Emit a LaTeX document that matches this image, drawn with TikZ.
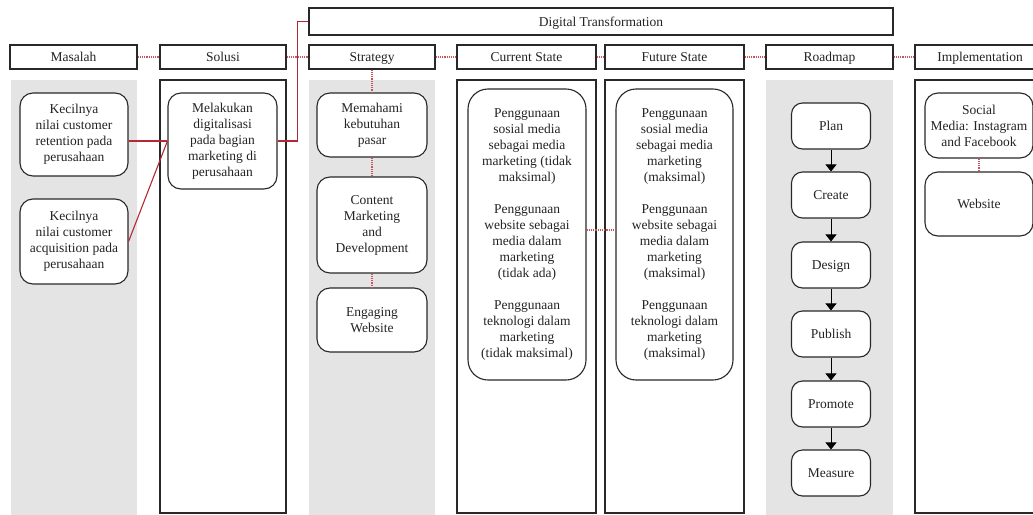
\documentclass[tikz,border=0pt]{standalone}
\usepackage{fontspec}
\setmainfont{Liberation Serif}
\usetikzlibrary{arrows.meta}
\definecolor{redline}{RGB}{180,40,52}
\definecolor{dotred}{RGB}{200,85,90}
\definecolor{colgray}{RGB}{228,228,228}
\definecolor{txt}{RGB}{35,35,35}
\definecolor{edge}{RGB}{40,40,40}
\begin{document}
\begin{tikzpicture}[x=1pt,y=-1pt,
  fnt/.style={font=\fontsize{13.5}{16}\selectfont, text=txt},
  oneline/.style={text height=10.5pt, text depth=1.5pt},
  box/.style={fnt, draw=edge, line width=1.1pt, rounded corners=13pt, fill=white, inner sep=0pt, align=center},
  bigbox/.style={box, rounded corners=20pt},
  rbox/.style={box, oneline, minimum width=79pt, minimum height=46pt, rounded corners=11pt},
  hdr/.style={fnt, oneline, draw=edge, line width=1.1pt, fill=white, inner sep=0pt, minimum height=24pt},
  whitecol/.style={draw=edge, line width=1.1pt, fill=white},
  graycol/.style={fill=colgray},
  redl/.style={draw=redline, line width=1.1pt},
  dotl/.style={draw=dotred, line width=1.2pt, densely dotted},
  arr/.style={draw=black, line width=1pt, -{Triangle[width=11pt,length=7pt]}}
]
\useasboundingbox (0,0) rectangle (1033,514);
\clip (0,0) rectangle (1033,514);
\fill[white] (0,0) rectangle (1033,514);

% columns
\fill[graycol] (11,80) rectangle (137,520);
\draw[whitecol] (160,80) rectangle (286,513);
\fill[graycol] (309,80) rectangle (435,520);
\draw[whitecol] (457,80) rectangle (596,513);
\draw[whitecol] (605,80) rectangle (744,513);
\fill[graycol] (766,80) rectangle (893,520);
\draw[whitecol] (915,80) rectangle (1045,513);

% top box
\node[hdr, minimum width=584pt, minimum height=27pt] (dt) at (601,21.5) {Digital Transformation};

% headers
\node[hdr, minimum width=127pt] (hM) at (73.5,57) {Masalah};
\node[hdr, minimum width=126pt] (hS) at (223,57) {Solusi};
\node[hdr, minimum width=126pt] (hSt) at (372,57) {Strategy};
\node[hdr, minimum width=139pt] (hC) at (526.5,57) {Current State};
\node[hdr, minimum width=139pt] (hF) at (674.5,57) {Future State};
\node[hdr, minimum width=127pt] (hR) at (829.5,57) {Roadmap};
\node[hdr, minimum width=130pt] (hI) at (980,57) {Implementation};

% Masalah
\node[box, minimum width=108pt, minimum height=83pt] (m1) at (74,134.5) {Kecilnya\\nilai customer\\retention pada\\perusahaan};
\node[box, minimum width=108pt, minimum height=85pt] (m2) at (74,241.5) {Kecilnya\\nilai customer\\acquisition pada\\perusahaan};

% Solusi
\node[box, minimum width=109pt, minimum height=96pt] (s1) at (222.5,141) {Melakukan\\digitalisasi\\pada bagian\\marketing di\\perusahaan};

% Strategy
\node[box, minimum width=110pt, minimum height=64pt] (st1) at (372,125) {Memahami\\kebutuhan\\pasar};
\node[box, minimum width=110pt, minimum height=96pt] (st2) at (372,225) {Content\\Marketing\\and\\Development};
\node[box, minimum width=110pt, minimum height=64pt] (st3) at (372,320) {Engaging\\Website};

% Current / Future
\node[bigbox, minimum width=118pt, minimum height=291pt] (cs) at (527,234.5) {Penggunaan\\sosial media\\sebagai media\\marketing (tidak\\maksimal)\\[16pt]Penggunaan\\website sebagai\\media dalam\\marketing\\(tidak ada)\\[16pt]Penggunaan\\teknologi dalam\\marketing\\(tidak maksimal)};
\node[bigbox, minimum width=117pt, minimum height=291pt] (fs) at (674.5,234.5) {Penggunaan\\sosial media\\sebagai media\\marketing\\(maksimal)\\[16pt]Penggunaan\\website sebagai\\media dalam\\marketing\\(maksimal)\\[16pt]Penggunaan\\teknologi dalam\\marketing\\(maksimal)};

% Roadmap
\node[rbox] (r1) at (831,126) {Plan};
\node[rbox] (r2) at (831,195) {Create};
\node[rbox] (r3) at (831,265) {Design};
\node[rbox] (r4) at (831,334) {Publish};
\node[rbox] (r5) at (831,404) {Promote};
\node[rbox] (r6) at (831,473) {Measure};

% Implementation
\node[box, minimum width=108pt, minimum height=65pt] (i1) at (979,125.5) {Social\\Media: Instagram\\and Facebook};
\node[box, oneline, minimum width=108pt, minimum height=64pt] (i2) at (979,204) {Website};

% red connectors
\draw[redl] (m1.east |- s1.west) -- (s1.west);
\draw[redl] (m2.east) -- (s1.west);
\draw[redl] (s1.east) -- ++(20,0) |- (dt.west);

% dotted header links
\draw[dotl] (hM.east) -- (hS.west);
\draw[dotl] (hS.east) -- (hSt.west);
\draw[dotl] (hSt.east) -- (hC.west);
\draw[dotl] (hC.east) -- (hF.west);
\draw[dotl] (hF.east) -- (hR.west);
\draw[dotl] (hR.east) -- (hI.west);

% dotted inner links
\draw[dotl] (hSt.south) -- (st1.north);
\draw[dotl] (st1.south) -- (st2.north);
\draw[dotl] (st2.south) -- (st3.north);
\draw[dotl] ([yshift=4.5pt]cs.east) -- ([yshift=4.5pt]fs.west);
\draw[dotl] (i1.south) -- (i2.north);

% roadmap arrows
\draw[arr] (r1.south) -- (r2.north);
\draw[arr] (r2.south) -- (r3.north);
\draw[arr] (r3.south) -- (r4.north);
\draw[arr] (r4.south) -- (r5.north);
\draw[arr] (r5.south) -- (r6.north);
\end{tikzpicture}
\end{document}
